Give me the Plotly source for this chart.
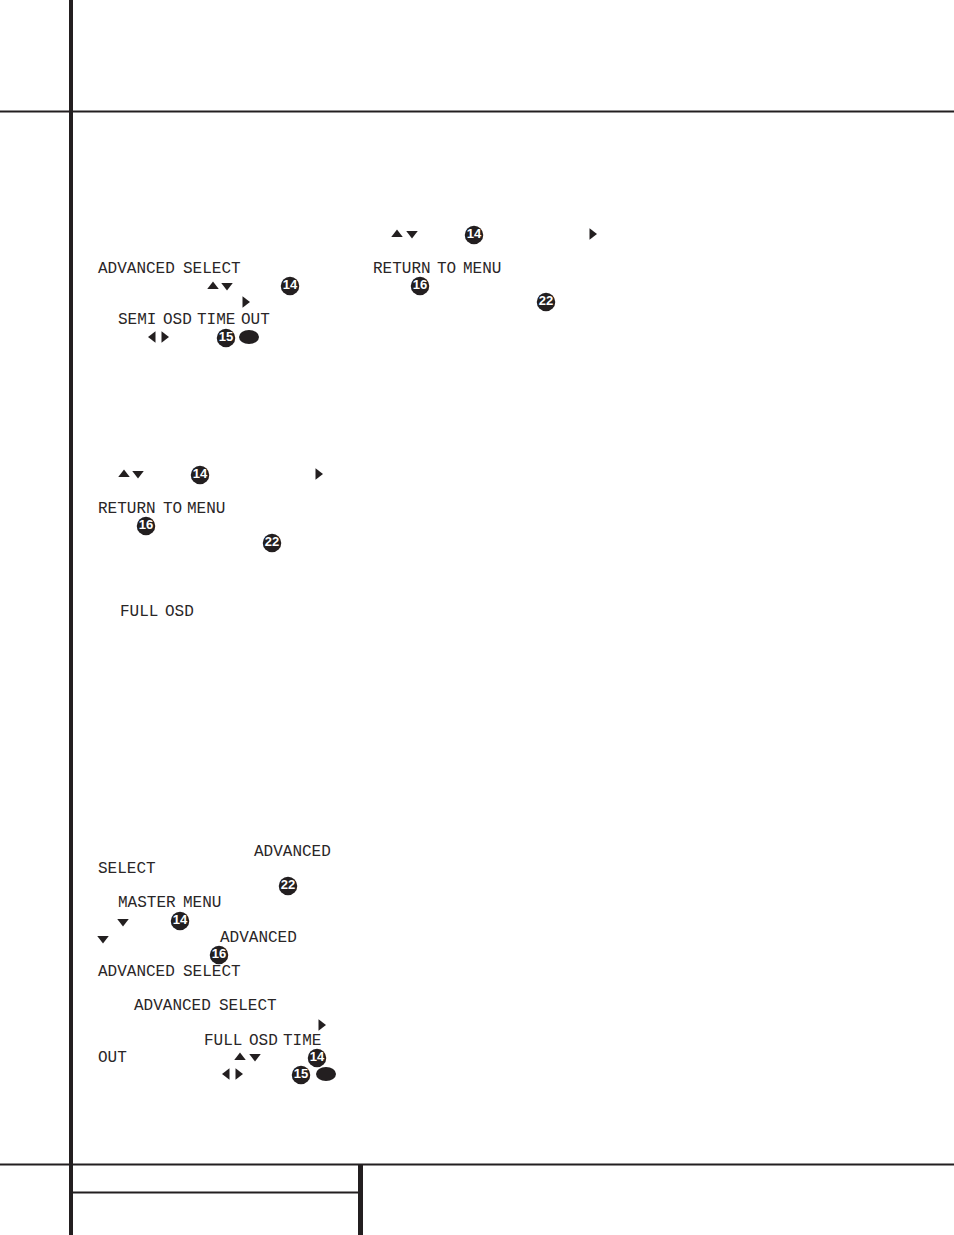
import plotly.graph_objects as go

INK = "#231f20"
WIDTH, HEIGHT = 954, 1235

# Rules on the page
hrule_y = [111.5, 1164.5, 1192.5]
hrule_x0 = [0, 0, 72]
hrule_x1 = [954, 954, 360]
vrule_x = [71, 360.5]
vrule_y0 = [0, 1165]
vrule_y1 = [1235, 1235]
vrule_w = [4, 5]

# Display-font words
word_text = ["ADVANCED", "SELECT", "RETURN", "TO", "MENU", "SEMI", "OSD", "TIME", "OUT",
             "RETURN", "TO", "MENU", "FULL", "OSD",
             "ADVANCED", "SELECT", "MASTER", "MENU", "ADVANCED",
             "ADVANCED", "SELECT", "ADVANCED", "SELECT",
             "FULL", "OSD", "TIME", "OUT"]
word_x = [98, 183, 373, 437, 463, 118, 163, 197, 241,
          98, 163, 187, 120, 165,
          254, 98, 118, 183, 220,
          98, 183, 134, 219,
          204, 249, 283, 98]
word_y = [269, 269, 269, 269, 269, 320, 320, 320, 320,
          509, 509, 509, 612, 612,
          852, 869, 903, 903, 938,
          972, 972, 1006, 1006,
          1041, 1041, 1041, 1058]

# Circled reference numbers
badge_text = ["14", "14", "16", "22", "15", "14", "16", "22", "22", "14", "16", "14", "15"]
badge_x = [474, 290, 420, 546, 226, 200, 146, 272, 288, 180, 219, 317, 301]
badge_y = [235, 286, 286, 302, 338, 475, 526, 543, 886, 921, 955, 1058, 1075]

# Arrow glyphs
up_x = [397, 213, 124, 240]
up_y = [234.5, 286.5, 474.5, 1057.5]
down_x = [412, 227, 138, 123, 103, 255]
down_y = [233.5, 285.5, 473.5, 921.5, 938.5, 1056.5]
right_x = [592, 245, 164, 318, 321, 238]
right_y = [234, 302, 337, 474, 1025, 1074]
left_x = [153, 227]
left_y = [337, 1074]

# Blank oval buttons
oval_x = [249, 326]
oval_y = [337, 1074]

fig = go.Figure()

shapes = []
for y, a, b in zip(hrule_y, hrule_x0, hrule_x1):
    shapes.append(dict(type="line", x0=a, x1=b, y0=y, y1=y, line=dict(color=INK, width=2)))
for x, a, b, w in zip(vrule_x, vrule_y0, vrule_y1, vrule_w):
    shapes.append(dict(type="line", x0=x, x1=x, y0=a, y1=b, line=dict(color=INK, width=w)))
for x, y in zip(oval_x, oval_y):
    shapes.append(dict(type="circle", x0=x - 10, x1=x + 10, y0=y - 7, y1=y + 7,
                       fillcolor=INK, line=dict(width=0)))

fig.add_trace(go.Scatter(x=word_x, y=word_y, text=word_text, mode="text",
                         textposition="middle right",
                         textfont=dict(family="Liberation Mono", size=16, color="#2a2627")))
for name, xs, ys, sym in [("up", up_x, up_y, "triangle-up"), ("down", down_x, down_y, "triangle-down"),
                          ("right", right_x, right_y, "triangle-right"), ("left", left_x, left_y, "triangle-left")]:
    fig.add_trace(go.Scatter(x=xs, y=ys, mode="markers", name=name,
                             marker=dict(symbol=sym, size=10, color=INK, line=dict(width=0))))
fig.add_trace(go.Scatter(x=badge_x, y=badge_y, mode="markers+text", text=badge_text,
                         textposition="middle center",
                         marker=dict(symbol="circle", size=18.5, color=INK, line=dict(width=0)),
                         textfont=dict(family="Liberation Sans Narrow, Liberation Sans", size=13,
                                       color="white", weight="bold")))

fig.update_layout(
    width=WIDTH, height=HEIGHT, autosize=False,
    margin=dict(l=0, r=0, t=0, b=0), showlegend=False,
    paper_bgcolor="white", plot_bgcolor="white", shapes=shapes,
    xaxis=dict(range=[0, WIDTH], visible=False, fixedrange=True),
    yaxis=dict(range=[HEIGHT, 0], visible=False, fixedrange=True),
)
fig.write_html("out.html", config=dict(displayModeBar=False),
               post_script="document.body.style.margin='0';document.documentElement.style.overflow='hidden';")
